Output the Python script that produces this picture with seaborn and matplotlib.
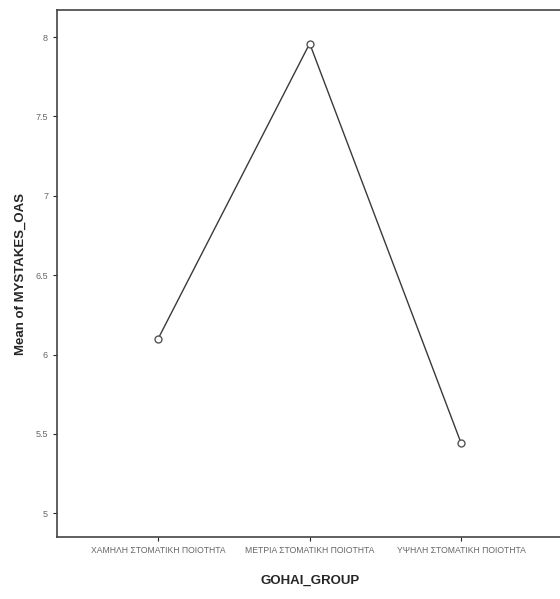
import matplotlib
matplotlib.use("Agg")
import matplotlib.pyplot as plt
import seaborn as sns
import pandas as pd

groups = ["ΧΑΜΗΛΗ ΣΤΟΜΑΤΙΚΗ ΠΟΙΟΤΗΤΑ", "ΜΕΤΡΙΑ ΣΤΟΜΑΤΙΚΗ ΠΟΙΟΤΗΤΑ", "ΥΨΗΛΗ ΣΤΟΜΑΤΙΚΗ ΠΟΙΟΤΗΤΑ"]
means = [6.10, 7.96, 5.44]
yticks = [5, 5.5, 6, 6.5, 7, 7.5, 8]
ytick_labels = ["5", "5.5", "6", "6.5", "7", "7.5", "8"]

df = pd.DataFrame({"GOHAI_GROUP": groups, "MYSTAKES_OAS": means})

sns.set_style("white")
plt.rcParams["font.family"] = ["Liberation Sans", "DejaVu Sans"]

fig = plt.figure(figsize=(5.6, 5.99), dpi=100)
ax = fig.add_axes([0.102, 0.1035, 0.902, 0.8795])

sns.lineplot(data=df, x="GOHAI_GROUP", y="MYSTAKES_OAS", sort=False, ax=ax,
             color="#3a3a3a", linewidth=1.0, marker="o", markersize=5,
             markerfacecolor="white", markeredgecolor="#555555", markeredgewidth=1.0)

ax.set_xlim(-0.667, 2.667)
ax.set_ylim(4.85, 8.17)
ax.set_yticks(yticks)
ax.set_yticklabels(ytick_labels)
ax.tick_params(axis="y", labelsize=6.5, length=3, direction="out", left=True)
ax.tick_params(axis="x", labelsize=6.2, length=3, direction="out", bottom=True)
for lab in ax.get_yticklabels() + ax.get_xticklabels():
    lab.set_color("#666666")

ax.set_xlabel("GOHAI_GROUP", fontsize=9.5, fontweight="bold", labelpad=14)
ax.set_ylabel("Mean of MYSTAKES_OAS", fontsize=9.5, fontweight="bold", labelpad=6)

for side in ["left", "bottom", "top"]:
    ax.spines[side].set_color("#444444")
    ax.spines[side].set_linewidth(1.2)
ax.spines["right"].set_visible(False)

fig.savefig("out.png", dpi=100)
